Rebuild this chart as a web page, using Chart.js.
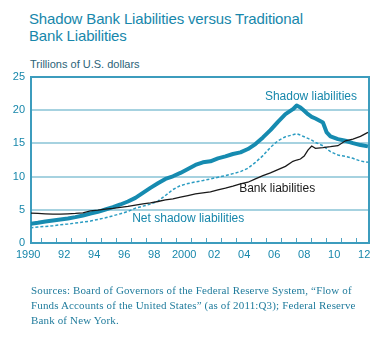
<!DOCTYPE html>
<html>
<head>
<meta charset="utf-8">
<title>Shadow Bank Liabilities versus Traditional Bank Liabilities</title>
<script src="https://cdn.jsdelivr.net/npm/chart.js@4.4.1/dist/chart.umd.min.js"></script>
<style>
  html, body { margin: 0; padding: 0; background: #fff; }
  #wrap { position: relative; width: 387px; height: 345px; overflow: hidden; }
  #chart { position: absolute; left: 0; top: 0; }
  .title {
    position: absolute; left: 29px; top: 10px;
    font: 15px/17px "Liberation Sans", Arial, sans-serif;
    color: #1787ab; letter-spacing: -0.15px; white-space: nowrap;
  }
  .units {
    position: absolute; left: 30px; top: 58px;
    font: 11px/13px "Liberation Sans", Arial, sans-serif;
    color: #2b6378; white-space: nowrap;
  }
  .source {
    position: absolute; left: 31px; top: 283px;
    font: 11px/15px "Liberation Serif", serif;
    color: #1f7b9c; letter-spacing: 0.15px; white-space: nowrap;
  }
</style>
</head>
<body>
<div id="wrap">
  <div class="title">Shadow Bank Liabilities versus Traditional<br>Bank Liabilities</div>
  <div class="units">Trillions of U.S. dollars</div>
  <canvas id="chart" width="387" height="345"></canvas>
  <div class="source">Sources: Board of Governors of the Federal Reserve System, “Flow of<br>Funds Accounts of the United States” (as of 2011:Q3); Federal Reserve<br>Bank of New York.</div>
</div>
<script>
// dates in fractional years, values in trillions of dollars
const dates = [
  1990.25, 1990.75, 1991.25, 1991.75, 1992.25, 1992.75, 1993.25, 1993.75,
  1994.25, 1994.75, 1995.25, 1995.75, 1996.25, 1996.75, 1997.25, 1997.75,
  1998.25, 1998.75, 1999.25, 1999.75, 2000.25, 2000.75, 2001.25, 2001.75,
  2002.25, 2002.75, 2003.25, 2003.75, 2004.25, 2004.75, 2005.25, 2005.75,
  2006.25, 2006.75, 2007.25, 2007.75, 2008.0, 2008.25, 2008.5, 2008.75,
  2009.0, 2009.25, 2009.75, 2010.0, 2010.25, 2010.75, 2011.25, 2011.75,
  2012.25, 2012.75
];
const shadowLiab = [
  2.9, 3.05, 3.25, 3.4, 3.55, 3.7, 3.9, 4.15,
  4.45, 4.7, 5.05, 5.4, 5.8, 6.25, 6.8, 7.55,
  8.3, 9.0, 9.65, 10.05, 10.55, 11.15, 11.75, 12.15,
  12.3, 12.75, 13.05, 13.4, 13.65, 14.15, 14.9, 15.9,
  17.0, 18.25, 19.4, 20.15, 20.7, 20.4, 19.9, 19.4,
  19.0, 18.75, 18.15, 16.65, 16.05, 15.65, 15.4, 15.05,
  14.75, 14.55
];
const bankLiab = [
  4.5, 4.45, 4.4, 4.35, 4.35, 4.4, 4.45, 4.55,
  4.85, 4.95, 5.1, 5.2, 5.35, 5.5, 5.7, 5.9,
  6.05, 6.25, 6.5, 6.65, 6.9, 7.15, 7.4, 7.55,
  7.7, 8.0, 8.25, 8.55, 8.9, 9.15, 9.65, 10.15,
  10.55, 11.05, 11.55, 12.3, 12.5, 12.65, 13.1, 14.0,
  14.6, 14.25, 14.35, 14.45, 14.5, 14.65, 15.4, 15.65,
  16.05, 16.65
];
const netShadowLiab = [
  2.3, 2.4, 2.5, 2.6, 2.75, 2.85, 3.0, 3.15,
  3.3, 3.55, 3.8, 4.1, 4.4, 4.75, 5.25, 5.55,
  5.85, 6.3, 7.15, 8.05, 8.65, 8.95, 9.2, 9.4,
  9.65, 9.9, 10.15, 10.45, 10.75, 11.25, 12.15, 13.15,
  14.4, 15.4, 16.0, 16.3, 16.45, 16.25, 16.0, 15.75,
  15.5, 15.15, 14.65, 14.2, 13.75, 13.25, 13.05, 12.75,
  12.35, 12.15
];

// year boundaries get a tick mark, labels sit in the middle of the year
const yearTicks = [
  1990, 1991, 1992, 1993, 1994, 1995, 1996, 1997, 1998, 1999, 2000, 2001,
  2002, 2003, 2004, 2005, 2006, 2007, 2008, 2009, 2010, 2011, 2012
];
const yearLabels = [
  '1990', '', '92', '', '94', '', '96', '', '98', '', '2000', '',
  '02', '', '04', '', '06', '', '08', '', '10', '', '12'
];

const teal = '#1787ab';
const frameColor = '#3c9cbd';
const gridColor = '#a6d2e0';
const sans = '"Liberation Sans", Arial, sans-serif';

function points(values) {
  return dates.map((d, i) => ({ x: d, y: values[i] }));
}

// text labels placed next to each line, in data units
const seriesLabels = {
  id: 'seriesLabels',
  afterDatasetsDraw(chart, args, opts) {
    const { ctx, scales: { x, y } } = chart;
    ctx.save();
    ctx.font = opts.font;
    ctx.textAlign = 'center';
    ctx.textBaseline = 'middle';
    opts.items.forEach(item => {
      ctx.fillStyle = item.color;
      ctx.fillText(item.text, x.getPixelForValue(item.x), y.getPixelForValue(item.y));
    });
    ctx.restore();
  }
};

new Chart(document.getElementById('chart'), {
  type: 'line',
  data: {
    datasets: [
      {
        label: 'Bank liabilities',
        data: points(bankLiab),
        borderColor: '#1a1a1a',
        borderWidth: 1.3,
        pointRadius: 0
      },
      {
        label: 'Net shadow liabilities',
        data: points(netShadowLiab),
        borderColor: '#2b9cc2',
        borderWidth: 1.5,
        borderDash: [3, 2],
        pointRadius: 0
      },
      {
        label: 'Shadow liabilities',
        data: points(shadowLiab),
        borderColor: '#168bb0',
        borderWidth: 4,
        borderJoinStyle: 'round',
        pointRadius: 0
      }
    ]
  },
  options: {
    responsive: false,
    animation: false,
    devicePixelRatio: 1,
    layout: { padding: { top: 77, right: 18, bottom: 82, left: 0 } },
    plugins: {
      legend: { display: false },
      tooltip: { enabled: false },
      seriesLabels: {
        font: '12px ' + sans,
        items: [
          { text: 'Shadow liabilities', x: 2008.95, y: 22.05, color: teal },
          { text: 'Bank liabilities', x: 2006.7, y: 8.15, color: '#1a1a1a' },
          { text: 'Net shadow liabilities', x: 2000.77, y: 3.63, color: teal }
        ]
      }
    },
    scales: {
      x: {
        type: 'linear',
        min: 1990.29,
        max: 2012.82,
        afterBuildTicks: axis => {
          // the first label is pulled left of the axis line
          axis.ticks = yearTicks.map(yr => ({ value: yr === 1990 ? 1989.6 : yr }));
        },
        afterFit: s => { s.height = 20; s.paddingLeft = 0; s.paddingRight = 0; },
        ticks: {
          autoSkip: false,
          maxRotation: 0,
          labelOffset: 7.5,
          padding: 10,
          color: teal,
          font: { family: sans, size: 11 },
          callback: (value, index) => yearLabels[index]
        },
        grid: {
          drawOnChartArea: false,
          // negative length turns the tick marks up into the plot
          tickLength: -5,
          tickWidth: 1,
          tickColor: ctx => ctx.index === 0 ? 'rgba(0,0,0,0)' : '#4fa3c3'
        },
        border: { color: frameColor, width: 2 }
      },
      y: {
        min: 0,
        max: 25,
        afterFit: s => { s.width = 31; },
        ticks: {
          stepSize: 5,
          padding: 6,
          color: teal,
          font: { family: sans, size: 11 }
        },
        grid: {
          drawTicks: false,
          lineWidth: 2,
          color: ctx => {
            const v = ctx.tick ? ctx.tick.value : null;
            if (v === 25) return frameColor;
            if (v === 0) return 'rgba(0,0,0,0)';
            return gridColor;
          }
        },
        border: { color: frameColor, width: 2 }
      },
      yRight: {
        position: 'right',
        afterFit: s => { s.width = 0; },
        ticks: { display: false },
        grid: { drawOnChartArea: false, drawTicks: false },
        border: { color: frameColor, width: 2 }
      }
    }
  },
  plugins: [seriesLabels]
});
</script>
</body>
</html>
